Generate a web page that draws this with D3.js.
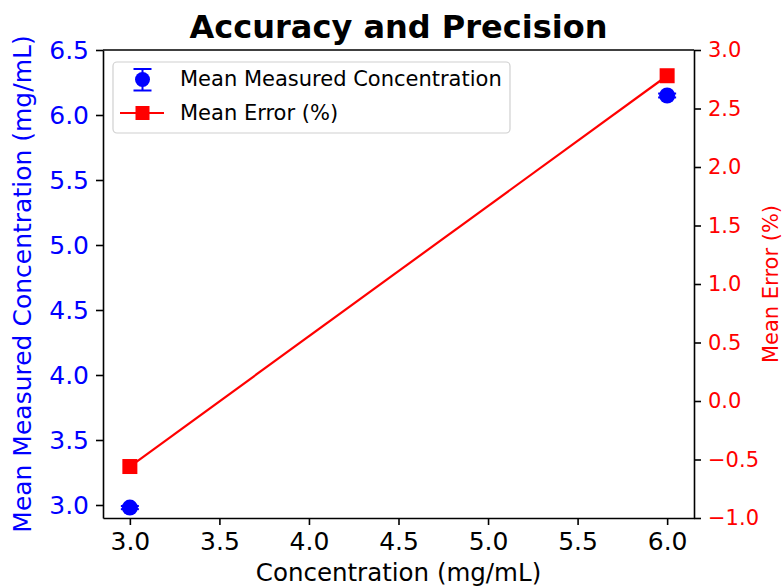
<!DOCTYPE html>
<html>
<head>
<meta charset="utf-8">
<script src="https://cdn.jsdelivr.net/npm/d3@7"></script>
<style>
  html, body { margin: 0; padding: 0; background: #fff; }
  svg { display: block; font-family: "DejaVu Sans", sans-serif; }
</style>
</head>
<body>
<svg id="chart" width="784" height="587"></svg>
<script>
// Nominal concentrations of the quality-control samples (mg/mL)
const concentrations = [3.0, 6.0];
// Mean measured concentration and its standard deviation (mg/mL)
const meanMeasured = [2.98, 6.15];
const stdMeasured = [0.012, 0.015];
// Mean relative error (%)
const meanError = [-0.56, 2.78];

// Tick values for each axis
const xTicks = [3.0, 3.5, 4.0, 4.5, 5.0, 5.5, 6.0];
const yLeftTicks = [3.0, 3.5, 4.0, 4.5, 5.0, 5.5, 6.0, 6.5];
const yRightTicks = [-1.0, -0.5, 0.0, 0.5, 1.0, 1.5, 2.0, 2.5, 3.0];

const BLUE = "#0000ff";
const RED = "#ff0000";

const svg = d3.select("#chart");
const plot = { left: 103, right: 694, top: 50, bottom: 518 };

const x = d3.scaleLinear().domain([2.85, 6.15]).range([plot.left, plot.right]);
const yL = d3.scaleLinear().domain([2.9, 6.5]).range([plot.bottom, plot.top]);
const yR = d3.scaleLinear().domain([-1.0, 3.0]).range([plot.bottom, plot.top]);

const fmt = d => d3.format(".1f")(d).replace("-", "\u2212");

// Axes
function styleAxis(g, color, size) {
  g.select(".domain").attr("stroke", "#000").attr("stroke-width", 1.6);
  g.selectAll(".tick line").attr("stroke", "#000").attr("stroke-width", 1.6);
  g.selectAll(".tick text").attr("fill", color).attr("font-size", size)
    .attr("font-family", "DejaVu Sans, sans-serif");
}

const xAxis = svg.append("g")
  .attr("transform", `translate(0,${plot.bottom})`)
  .call(d3.axisBottom(x).tickValues(xTicks).tickFormat(fmt).tickSize(7).tickPadding(7).tickSizeOuter(0));
styleAxis(xAxis, "#000", 25);

const yLeftAxis = svg.append("g")
  .attr("transform", `translate(${plot.left},0)`)
  .call(d3.axisLeft(yL).tickValues(yLeftTicks).tickFormat(fmt).tickSize(7).tickPadding(7).tickSizeOuter(0));
styleAxis(yLeftAxis, BLUE, 25);

const yRightAxis = svg.append("g")
  .attr("transform", `translate(${plot.right},0)`)
  .call(d3.axisRight(yR).tickValues(yRightTicks).tickFormat(fmt).tickSize(7).tickPadding(7).tickSizeOuter(0));
styleAxis(yRightAxis, RED, 21);

// Top spine
svg.append("line")
  .attr("x1", plot.left).attr("x2", plot.right)
  .attr("y1", plot.top).attr("y2", plot.top)
  .attr("stroke", "#000").attr("stroke-width", 1.6);

// Error bars and mean measured points
const measured = concentrations.map((c, i) => ({ c, m: meanMeasured[i], s: stdMeasured[i] }));
const eb = svg.append("g").attr("class", "errorbars");
eb.selectAll("line.v").data(measured).join("line")
  .attr("x1", d => x(d.c)).attr("x2", d => x(d.c))
  .attr("y1", d => yL(d.m - d.s)).attr("y2", d => yL(d.m + d.s))
  .attr("stroke", BLUE).attr("stroke-width", 2);
[-1, 1].forEach(sgn => {
  eb.selectAll(`line.cap${sgn}`).data(measured).join("line")
    .attr("x1", d => x(d.c) - 9).attr("x2", d => x(d.c) + 9)
    .attr("y1", d => yL(d.m + sgn * d.s)).attr("y2", d => yL(d.m + sgn * d.s))
    .attr("stroke", BLUE).attr("stroke-width", 2);
});
eb.selectAll("circle").data(measured).join("circle")
  .attr("cx", d => x(d.c)).attr("cy", d => yL(d.m)).attr("r", 8)
  .attr("fill", BLUE);

// Mean error line with square markers (right axis)
const errPts = concentrations.map((c, i) => ({ c, e: meanError[i] }));
svg.append("path")
  .datum(errPts)
  .attr("d", d3.line().x(d => x(d.c)).y(d => yR(d.e)))
  .attr("fill", "none").attr("stroke", RED).attr("stroke-width", 2.2);
svg.selectAll("rect.err").data(errPts).join("rect")
  .attr("class", "err")
  .attr("x", d => x(d.c) - 7.5).attr("y", d => yR(d.e) - 7.5)
  .attr("width", 15).attr("height", 15)
  .attr("fill", RED);

// Title and axis labels
svg.append("text")
  .attr("x", (plot.left + plot.right) / 2).attr("y", 38)
  .attr("text-anchor", "middle").attr("font-size", 32).attr("font-weight", "bold")
  .attr("fill", "#000").text("Accuracy and Precision");

svg.append("text")
  .attr("x", (plot.left + plot.right) / 2).attr("y", 581)
  .attr("text-anchor", "middle").attr("font-size", 24.5)
  .attr("fill", "#000").text("Concentration (mg/mL)");

svg.append("text")
  .attr("transform", `translate(31,${(plot.top + plot.bottom) / 2}) rotate(-90)`)
  .attr("text-anchor", "middle").attr("font-size", 25)
  .attr("fill", BLUE).text("Mean Measured Concentration (mg/mL)");

svg.append("text")
  .attr("transform", `translate(778,${(plot.top + plot.bottom) / 2}) rotate(-90)`)
  .attr("text-anchor", "middle").attr("font-size", 21)
  .attr("fill", RED).text("Mean Error (%)");

// Legend
const legend = svg.append("g");
legend.append("rect")
  .attr("x", 113).attr("y", 62).attr("width", 397).attr("height", 71)
  .attr("rx", 4).attr("fill", "#fff").attr("fill-opacity", 0.8)
  .attr("stroke", "#d0d0d0").attr("stroke-width", 1.2);

const lx = 142.5;
// errorbar handle
legend.append("line").attr("x1", lx).attr("x2", lx).attr("y1", 69).attr("y2", 90.5)
  .attr("stroke", BLUE).attr("stroke-width", 2);
legend.append("line").attr("x1", lx - 9).attr("x2", lx + 9).attr("y1", 69).attr("y2", 69)
  .attr("stroke", BLUE).attr("stroke-width", 2);
legend.append("line").attr("x1", lx - 9).attr("x2", lx + 9).attr("y1", 90.5).attr("y2", 90.5)
  .attr("stroke", BLUE).attr("stroke-width", 2);
legend.append("circle").attr("cx", lx).attr("cy", 79.5).attr("r", 7.5).attr("fill", BLUE);
legend.append("text").attr("x", 180).attr("y", 86).attr("font-size", 21)
  .attr("fill", "#000").text("Mean Measured Concentration");

// line handle
legend.append("line").attr("x1", 120).attr("x2", 164).attr("y1", 113).attr("y2", 113)
  .attr("stroke", RED).attr("stroke-width", 2.2);
legend.append("rect").attr("x", lx - 7).attr("y", 106).attr("width", 14).attr("height", 14)
  .attr("fill", RED);
legend.append("text").attr("x", 180).attr("y", 120).attr("font-size", 21)
  .attr("fill", "#000").text("Mean Error (%)");
</script>
</body>
</html>
